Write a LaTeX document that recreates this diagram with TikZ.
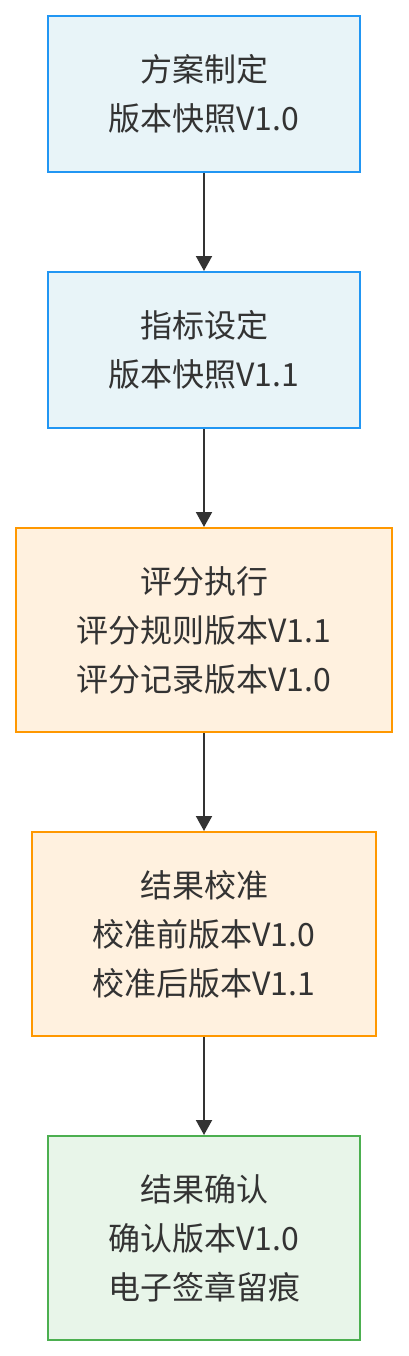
\documentclass[tikz,border=0pt]{standalone}
\usepackage{fontspec}
\setmainfont{Noto Sans CJK SC}
\usepackage{tikz}
\usetikzlibrary{arrows.meta,positioning}
\definecolor{txtgray}{HTML}{333333}
\definecolor{planfill}{HTML}{E8F4F8}
\definecolor{plandraw}{HTML}{2196F3}
\definecolor{scorefill}{HTML}{FFF1DF}
\definecolor{scoredraw}{HTML}{FF9800}
\definecolor{donefill}{HTML}{E8F5E9}
\definecolor{donedraw}{HTML}{4CAF50}

\begin{document}
\begin{tikzpicture}[
  x=1pt, y=-1pt,
  font=\fontsize{32}{49}\selectfont,
  stage/.style={rectangle, line width=2pt, text=txtgray, align=center, inner sep=0pt},
  plan/.style={stage, draw=plandraw, fill=planfill, minimum width=312pt, minimum height=156pt},
  score/.style={stage, draw=scoredraw, fill=scorefill, minimum height=204pt},
  done/.style={stage, draw=donedraw, fill=donefill, minimum width=312pt, minimum height=204pt},
  flow/.style={-{Triangle[length=15pt,width=16pt]}, line width=2pt, txtgray},
]
\useasboundingbox (0,0) rectangle (408,1356);

% ---------- stages ----------
\node[plan] (design) at (204,94) {方案制定\\版本快照V1.0};
\node[plan] (target) at (204,350) {指标设定\\版本快照V1.1};
\node[score, minimum width=376pt] (grading) at (204,630) {评分执行\\评分规则版本V1.1\\评分记录版本V1.0};
\node[score, minimum width=344pt] (calib) at (204,934) {结果校准\\校准前版本V1.0\\校准后版本V1.1};
\node[done] (confirm) at (204,1238) {结果确认\\确认版本V1.0\\电子签章留痕};

% ---------- flow ----------
\draw[flow] (design) -- (target);
\draw[flow] (target) -- (grading);
\draw[flow] (grading) -- (calib);
\draw[flow] (calib) -- (confirm);
\end{tikzpicture}
\end{document}
